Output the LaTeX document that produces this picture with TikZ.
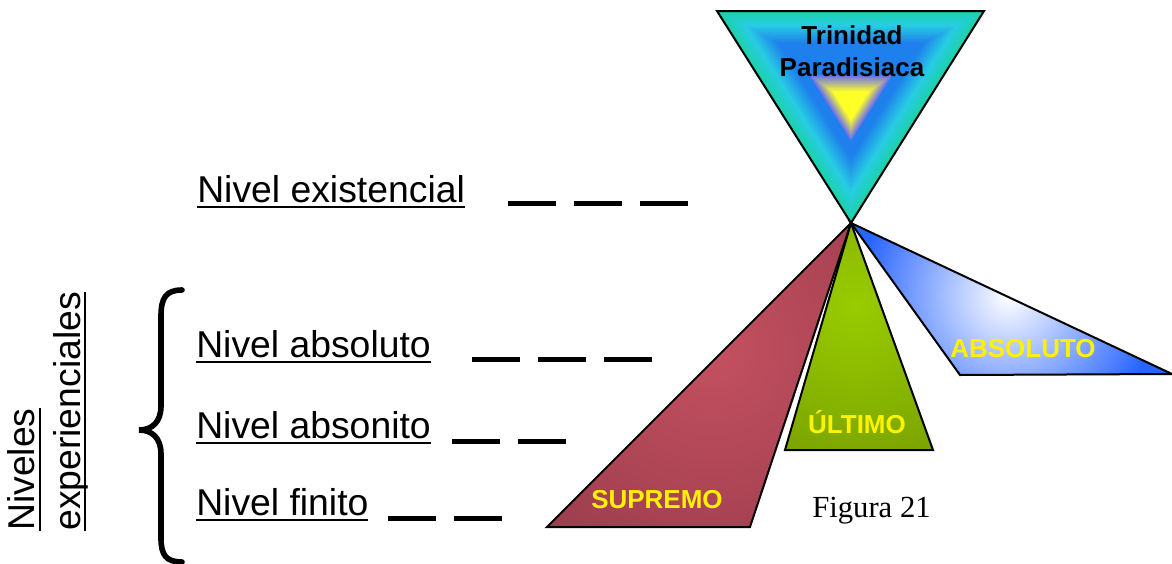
\documentclass[tikz,border=0pt]{standalone}
\usepackage{fontspec}
\setmainfont{Liberation Sans}
\newfontfamily\figfont{Liberation Serif}
\usetikzlibrary{calc}

\definecolor{trteal}{RGB}{28,210,168}
\definecolor{trcyan}{RGB}{40,204,228}
\definecolor{trblue}{RGB}{30,128,236}
\definecolor{trviolet}{RGB}{108,112,240}
\definecolor{tryellow}{RGB}{255,255,40}
\definecolor{supLight}{RGB}{196,80,96}
\definecolor{supDark}{RGB}{118,44,60}
\definecolor{ultLight}{RGB}{153,204,0}
\definecolor{ultDark}{RGB}{92,122,0}
\definecolor{absDark}{RGB}{40,100,255}

% underlined text with a thick rule
\newcommand{\uln}[1]{\setbox0\hbox{#1}\leavevmode\rlap{\rule[-4.5pt]{\wd0}{1.5pt}}\box0}

\tikzset{
  levellabel/.style={anchor=base west, inner sep=0pt, font=\fontsize{28}{34}\selectfont},
  levelbar/.style={line width=3.75pt, dash pattern=on 36pt off 13.5pt},
  wedge/.style={draw=black, line width=1.5pt, line join=miter},
  wedgelabel/.style={inner sep=0pt, text=yellow, font=\fontsize{19.5}{23}\selectfont\bfseries},
}

\begin{document}
\begin{tikzpicture}[x=0.75pt,y=-0.75pt]
  \useasboundingbox (0,0) rectangle (1172,564);

  % Corner points of the triangles
  \coordinate (apex) at (851,223);
  \coordinate (tA) at (717,11);
  \coordinate (tB) at (984,11);
  \coordinate (tc) at (851,81);
  \coordinate (ic) at (851,104);
  \coordinate (supBL) at (547,527);
  \coordinate (supBR) at (750,527);
  \coordinate (ultBL) at (785,450);
  \coordinate (ultBR) at (933,450);
  \coordinate (absBL) at (960,375);
  \coordinate (absBR) at (1172,374);

  % Lower wedges
  \begin{scope}
    \clip (apex) -- (supBL) -- (supBR) -- cycle;
    \shade[inner color=supLight, outer color=supDark] (712,350) circle (470);
  \end{scope}
  \draw[wedge] (apex) -- (supBL) -- (supBR) -- cycle;
  \begin{scope}
    \clip (apex) -- (ultBL) -- (ultBR) -- cycle;
    \shade[inner color=ultLight, outer color=ultDark] (856,305) circle (330);
  \end{scope}
  \draw[wedge] (apex) -- (ultBL) -- (ultBR) -- cycle;
  \begin{scope}
    \clip (apex) -- (absBL) -- (absBR) -- cycle;
    \fill[absDark] (apex) -- (absBL) -- (absBR) -- cycle;
    \shade[inner color=white, outer color=absDark] (1008,296) circle (150);
  \end{scope}
  \draw[wedge] (apex) -- (absBL) -- (absBR) -- cycle;

  % Upper triangle, shaded by nested copies
  \foreach \i in {0,...,10} {
    \pgfmathsetmacro\s{1-0.02*\i}
    \pgfmathtruncatemacro\p{10*\i}
    \fill[trcyan!\p!trteal] ($(tc)!\s!(tA)$) -- ($(tc)!\s!(tB)$) -- ($(tc)!\s!(apex)$) -- cycle;
  }
  \foreach \i in {1,...,15} {
    \pgfmathsetmacro\s{0.8-0.02*\i}
    \pgfmathtruncatemacro\p{min(100,8*\i)}
    \fill[trblue!\p!trcyan] ($(tc)!\s!(tA)$) -- ($(tc)!\s!(tB)$) -- ($(tc)!\s!(apex)$) -- cycle;
  }
  \foreach \i in {0,...,19} {
    \pgfmathsetmacro\s{0.31*(1-\i/20)}
    \pgfmathtruncatemacro\p{min(100,9*\i)}
    \fill[tryellow!\p!trviolet] ($(ic)!\s!(tA)$) -- ($(ic)!\s!(tB)$) -- ($(ic)!\s!(apex)$) -- cycle;
  }
  \draw[wedge] (tA) -- (tB) -- (apex) -- cycle;

  % Texts on the triangles
  \node[inner sep=0pt, anchor=base, font=\fontsize{19.5}{23}\selectfont\bfseries] (trin) at (852,45) {Trinidad};
  \node[inner sep=0pt, anchor=base, font=\fontsize{19.5}{23}\selectfont\bfseries] (para) at (852,76) {Paradisiaca};
  \node[wedgelabel, anchor=base west] (sup) at (591,508) {SUPREMO};
  \node[wedgelabel, anchor=base] (ult) at (857,433) {ÚLTIMO};
  \node[wedgelabel, anchor=base west] (abs) at (950,357) {ABSOLUTO};
  \node[inner sep=0pt, anchor=base west, font=\figfont\fontsize{23}{27}\selectfont] (fig) at (812,517) {Figura 21};

  % Level labels
  \node[levellabel] (exis) at (197,202) {\uln{Nivel existencial}};
  \node[levellabel] (absl) at (196,357) {\uln{Nivel absoluto}};
  \node[levellabel] (abso) at (196,438) {\uln{Nivel absonito}};
  \node[levellabel] (fini) at (196,515) {\uln{Nivel finito}};

  % Dashed bars
  \coordinate (exis-a) at (508,203);
  \coordinate (exis-b) at (688,203);
  \coordinate (absl-a) at (472,359);
  \coordinate (absl-b) at (652,359);
  \coordinate (abso-a) at (452,441);
  \coordinate (abso-b) at (566,441);
  \coordinate (fini-a) at (388,518);
  \coordinate (fini-b) at (502,518);
  \draw[levelbar] (exis-a) -- (exis-b);
  \draw[levelbar] (absl-a) -- (absl-b);
  \draw[levelbar] (abso-a) -- (abso-b);
  \draw[levelbar] (fini-a) -- (fini-b);

  % Brace and side title
  \draw[line width=4.2pt, line cap=round] (182,290) .. controls (166,290) and (161,298) .. (161,316)
    -- (161,406) .. controls (161,422) and (152,430) .. (139,430)
    .. controls (152,430) and (161,438) .. (161,454)
    -- (161,538) .. controls (161,555) and (166,562) .. (182,562);
  \node[levellabel, rotate=90] (niv) at (35,531) {\uln{Niveles}};
  \node[levellabel, rotate=90] (expe) at (80,531) {\uln{experienciales}};
\end{tikzpicture}
\end{document}
